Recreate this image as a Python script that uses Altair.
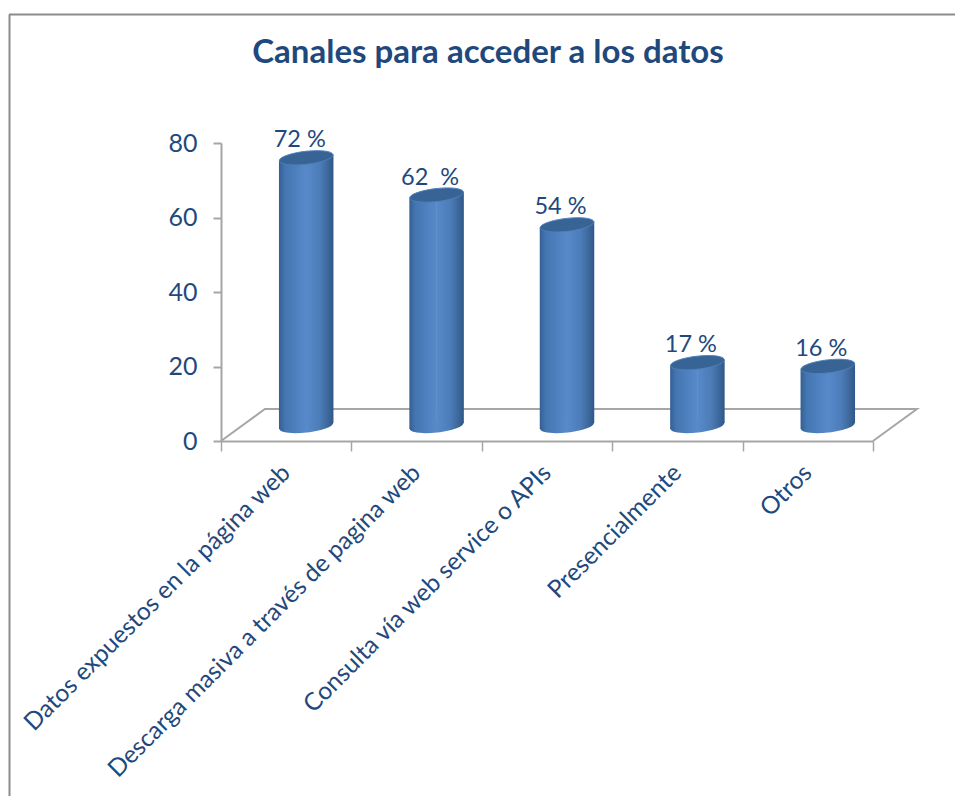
import altair as alt
import pandas as pd

categorias = [
    "Datos expuestos en la página web",
    "Descarga masiva a través de pagina web",
    "Consulta vía web service o APIs",
    "Presencialmente",
    "Otros",
]
valores = [72, 62, 54, 17, 16]
etiquetas = ["72 %", "62\u00a0 %", "54 %", "17 %", "16 %"]
titulo = ["Canales para acceder a los datos"]

# Outline of the chart floor, in category steps and value units
suelo_x = [0, 0.337, 5.337, 5]
suelo_v = [0, 8.6, 8.6, 0]
suelo_orden = [0, 1, 2, 3]

AZUL = "#1F497D"
GRIS = "#A6A6A6"
FUENTE = "Lato"

df = pd.DataFrame({"cat": categorias, "v": valores, "lab": etiquetas})
suelo = pd.DataFrame({"x": suelo_x, "v": suelo_v, "o": suelo_orden})

y_scale = alt.Scale(domain=[0, 80], nice=False)
x_band = alt.Scale(type="band", domain=categorias, paddingInner=0, paddingOuter=0)


def grad(stops):
    return alt.Gradient(
        gradient="linear",
        x1=0, x2=1, y1=0, y2=0,
        stops=[alt.GradientStop(color=c, offset=o) for o, c in stops],
    )


g_izq = grad([(0, "#355F93"), (0.22, "#4476B2"), (1, "#5889CA")])
g_der = grad([(0, "#5889CA"), (0.5, "#4C7DB9"), (0.85, "#3A6497"), (1, "#2F5788")])
g_base = grad([
    (0, "#355F93"), (0.11, "#4476B2"), (0.5, "#5889CA"),
    (0.75, "#4C7DB9"), (0.925, "#3A6497"), (1, "#2F5788"),
])

# Tilted ellipse, unit radius, used for the cylinder ends
ELIPSE = "M-0.994,0.113 A1,0.24,-6.5,1,1,0.994,-0.113 A1,0.24,-6.5,1,1,-0.994,0.113 Z"

eje_y = alt.Axis(
    values=[0, 20, 40, 60, 80],
    grid=False,
    title=None,
    domainColor=GRIS,
    domainWidth=2,
    tickColor=GRIS,
    tickWidth=2,
    tickSize=8,
    labelFont=FUENTE,
    labelFontSize=25,
    labelColor=AZUL,
    labelPadding=16,
)

marco = (
    alt.Chart(df.head(1))
    .mark_rule(color="#8C8C8C", strokeWidth=2)
    .encode(x=alt.value(-211.5), y=alt.value(-128.5), y2=alt.value(655))
)
marco_sup = (
    alt.Chart(df.head(1))
    .mark_rule(color="#8C8C8C", strokeWidth=2)
    .encode(x=alt.value(-212), x2=alt.value(734), y=alt.value(-128.5))
)

rotulo_titulo = (
    alt.Chart(pd.DataFrame({"t": titulo}))
    .mark_text(font=FUENTE, fontSize=33, fontWeight="bold", color=AZUL, align="center", baseline="middle")
    .encode(x=alt.value(267), y=alt.value(-90), text="t:N")
)

capa_suelo = (
    alt.Chart(suelo)
    .mark_line(color=GRIS, strokeWidth=2)
    .encode(
        x=alt.X("x:Q", axis=None, scale=alt.Scale(domain=[0, 5], nice=False, zero=False)),
        y=alt.Y("v:Q", scale=y_scale, axis=eje_y),
        order="o:Q",
    )
)

eje_x = alt.X(
    "cat:N",
    scale=x_band,
    title=None,
    axis=alt.Axis(
        labelAngle=-45,
        labelAlign="right",
        labelBaseline="middle",
        labelFont=FUENTE,
        labelFontSize=24.5,
        labelColor=AZUL,
        labelLimit=700,
        labelPadding=18,
        labelOverlap=False,
        tickBand="extent",
        tickColor=GRIS,
        tickWidth=1.5,
        tickSize=10,
        domainColor=GRIS,
        domainWidth=2,
    ),
)
x_sin_eje = alt.X("cat:N", scale=x_band, axis=None)
y_val = alt.Y("v:Q", scale=y_scale, axis=eje_y, stack=None)
y_cero = alt.Y("cero:Q", scale=y_scale, axis=eje_y)

base = alt.Chart(df)

cuerpo_izq = base.mark_bar(
    width=27.5, xOffset=6.5, yOffset=-12, y2Offset=-12, fill=g_izq
).encode(x=eje_x, y=y_val, y2=alt.datum(0))
cuerpo_der = base.mark_bar(
    width=27.5, xOffset=33.5, yOffset=-18, y2Offset=-18, fill=g_der
).encode(x=x_sin_eje, y=y_val, y2=alt.datum(0))

extremo_inf = base.mark_point(
    shape=ELIPSE, size=2916, filled=True, fill=g_base, opacity=1, strokeWidth=0,
    xOffset=20, yOffset=-15,
).encode(x=x_sin_eje, y=y_cero).transform_calculate(cero="0")

extremo_sup = base.mark_point(
    shape=ELIPSE, size=2916, filled=True, fill="#386395", opacity=1,
    stroke="#4F7FBA", strokeWidth=1, xOffset=20, yOffset=-15,
).encode(x=x_sin_eje, y=y_val)

rotulos = base.mark_text(
    font=FUENTE, fontSize=23.5, color=AZUL, baseline="middle", align="center",
    xOffset=13.5, yOffset=-32.5,
).encode(x=x_sin_eje, y=y_val, text="lab:N")

chart = (
    alt.layer(
        marco, marco_sup, rotulo_titulo, capa_suelo,
        cuerpo_izq, cuerpo_der, extremo_inf, extremo_sup, rotulos,
    )
    .resolve_scale(x="independent")
    .properties(
        width=652,
        height=298,
        autosize=alt.AutoSizeParams(type="none"),
        padding={"left": 221, "top": 143, "right": 82, "bottom": 355},
        background="white",
    )
    .configure_view(stroke=None)
)

chart.save("out.html", embed_options={"renderer": "svg", "actions": False})
